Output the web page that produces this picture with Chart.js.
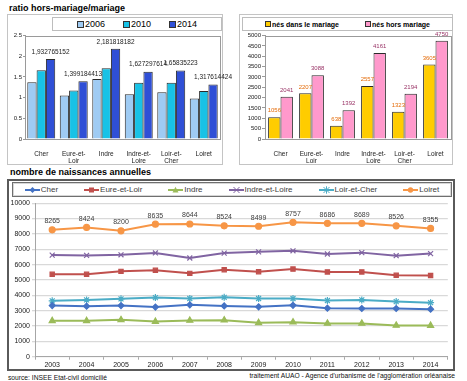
<!DOCTYPE html>
<html>
<head>
<meta charset="utf-8">
<script src="https://cdn.jsdelivr.net/npm/chart.js@4.4.1/dist/chart.umd.min.js"></script>
<style>
body { margin: 0; width: 467px; height: 381px; background: #fff; position: relative; overflow: hidden;
	font-family: "Liberation Sans", Arial, sans-serif; color: #000; }
.abs { position: absolute; box-sizing: border-box; }
.title { font-weight: bold; font-size: 9px; line-height: 9px; white-space: nowrap; }
.panel { border: 1px solid #c4c4c4; }
.legend { display: flex; align-items: center; justify-content: center; border: 1px solid #bdbdbd; background: #fff; }
.item { display: flex; align-items: center; white-space: nowrap; }
.sw { display: inline-block; border: 1px solid #333; box-sizing: border-box; }
.foot { font-size: 6.7px; line-height: 8px; white-space: nowrap; color: #111; }
canvas { position: absolute; }
</style>
</head>
<body>
<div class="abs title" style="left:9px;top:4px">ratio hors-mariage/mariage</div>
<div class="abs panel" style="left:7px;top:14px;width:216px;height:151px"></div>
<div class="abs legend" id="legend-ratio" style="left:52px;top:17px;width:170px;height:14px;gap:18px;font-size:9px"></div>
<canvas id="chart-ratio" width="230" height="133" style="left:7px;top:31px"></canvas>

<div class="abs panel" style="left:239px;top:14px;width:214px;height:151px"></div>
<div class="abs legend" id="legend-births" style="left:242px;top:17px;width:211px;height:14px;gap:26px;font-size:7px;font-weight:bold"></div>
<canvas id="chart-births" width="214" height="133" style="left:239px;top:31px"></canvas>

<div class="abs title" style="left:10px;top:168px">nombre de naissances annuelles</div>
<div class="abs" style="left:7px;top:179px;width:448px;height:192px;border:2px solid #5a5a5a"></div>
<div class="abs legend" id="legend-years" style="left:12px;top:182px;width:440px;height:15px;gap:26px;font-size:8px;color:#404040;border:1px solid #6f6f6f;box-shadow:inset 0 0 0 1px #d6d6d6"></div>
<canvas id="chart-years" width="444" height="172" style="left:9px;top:197px"></canvas>

<div class="abs foot" style="left:8px;top:374px">source: INSEE Etat-civil domicilié</div>
<div class="abs foot" style="right:12px;top:372px">traitement AUAO - Agence d'urbanisme de l'agglomération orléanaise</div>

<script>
// categories and values
const departements = ['Cher', ['Eure-et-', 'Loir'], 'Indre', ['Indre-et-', 'Loire'], ['Loir-et-', 'Cher'], 'Loiret'];

const ratioYears = ['2006', '2010', '2014'];
const ratio2006 = [1.37, 1.05, 1.45, 1.08, 1.13, 0.98];
const ratio2010 = [1.66, 1.17, 1.71, 1.36, 1.36, 1.16];
const ratio2014 = [1.932765152, 1.399184413, 2.181818182, 1.627297614, 1.65835223, 1.317614424];

const birthsNames = ['nés dans le mariage', 'nés hors mariage'];
const birthsIn = [1056, 2207, 638, 2557, 1323, 3605];
const birthsOut = [2041, 3088, 1392, 4161, 2194, 4750];

const years = ['2003', '2004', '2005', '2006', '2007', '2008', '2009', '2010', '2011', '2012', '2013', '2014'];
const seriesNames = ['Cher', 'Eure-et-Loir', 'Indre', 'Indre-et-Loire', 'Loir-et-Cher', 'Loiret'];
const cher = [3330, 3290, 3330, 3230, 3380, 3310, 3250, 3350, 3160, 3140, 3140, 3097];
const eureEtLoir = [5370, 5370, 5560, 5630, 5430, 5670, 5540, 5710, 5520, 5520, 5300, 5295];
const indre = [2340, 2340, 2400, 2290, 2360, 2380, 2210, 2250, 2170, 2170, 2040, 2030];
const indreEtLoire = [6620, 6600, 6640, 6760, 6430, 6750, 6830, 6900, 6690, 6780, 6580, 6718];
const loirEtCher = [3640, 3700, 3770, 3850, 3790, 3870, 3790, 3790, 3660, 3700, 3590, 3517];
const loiret = [8265, 8424, 8200, 8635, 8644, 8524, 8499, 8757, 8686, 8689, 8526, 8355];

// styles
const ratioColors = ['#9fcbf3', '#18c2e6', '#2f4fd6'];
const birthsColors = ['#ffcc00', '#ff99cc'];
const lineColors = ['#4472c4', '#c0504d', '#9bbb59', '#8064a2', '#4bacc6', '#f79646'];
const lineMarkers = ['rectRot', 'rect', 'triangle', 'crossRot', 'star', 'circle'];
const lineRadius = [3, 3, 3.5, 3.5, 3.5, 3];

Chart.defaults.font.family = '"Liberation Sans", Arial, sans-serif';
Chart.defaults.color = '#222';
Chart.defaults.animation = false;
Chart.defaults.responsive = false;

const framePlugin = {
	id: 'frame',
	beforeDatasetsDraw(chart, args, opts) {
		if (!opts.color) return;
		const a = chart.chartArea;
		const ctx = chart.ctx;
		ctx.save();
		ctx.strokeStyle = opts.color;
		ctx.lineWidth = 1;
		ctx.strokeRect(Math.round(a.left) + 0.5, Math.round(a.top) + 0.5, Math.round(a.width), Math.round(a.height));
		ctx.restore();
	},
};

const valueLabels = {
	id: 'valueLabels',
	afterDatasetsDraw(chart, args, opts) {
		if (!opts.items) return;
		const ctx = chart.ctx;
		ctx.save();
		ctx.font = opts.font;
		ctx.textAlign = 'center';
		ctx.textBaseline = 'middle';
		opts.items.forEach((it) => {
			const ds = chart.data.datasets[it.dataset];
			chart.getDatasetMeta(it.dataset).data.forEach((el, i) => {
				ctx.fillStyle = it.color;
				ctx.fillText(opts.format(ds.data[i]), el.x, el.y - opts.offset);
			});
		});
		ctx.restore();
	},
};

function swatchLegend(id, names, colors, size) {
	const box = document.getElementById(id);
	names.forEach((n, i) => {
		const item = document.createElement('span');
		item.className = 'item';
		item.innerHTML = `<span class="sw" style="width:${size}px;height:${size}px;background:${colors[i]};margin-right:1px"></span>${n}`;
		box.appendChild(item);
	});
}

function markerSvg(style, c) {
	let m;
	switch (style) {
		case 'rectRot': m = `<polygon points="7.5,1 10.5,4 7.5,7 4.5,4" fill="${c}"/>`; break;
		case 'rect': m = `<rect x="5" y="1.5" width="5" height="5" fill="${c}"/>`; break;
		case 'triangle': m = `<polygon points="7.5,0.8 10.5,6.5 4.5,6.5" fill="${c}"/>`; break;
		case 'crossRot': m = `<path d="M4.5 1L10.5 7M10.5 1L4.5 7" stroke="${c}"/>`; break;
		case 'star': m = `<path d="M4.5 1L10.5 7M10.5 1L4.5 7M7.5 0.3V7.7" stroke="${c}"/>`; break;
		default: m = `<circle cx="7.5" cy="4" r="2.7" fill="${c}"/>`;
	}
	return `<svg width="15" height="8" style="margin-right:1px"><line x1="0" y1="4" x2="15" y2="4" stroke="${c}" stroke-width="2"/>${m}</svg>`;
}

swatchLegend('legend-ratio', ratioYears, ratioColors, 7);
swatchLegend('legend-births', birthsNames, birthsColors, 6);
(() => {
	const box = document.getElementById('legend-years');
	seriesNames.forEach((n, i) => {
		const item = document.createElement('span');
		item.className = 'item';
		item.innerHTML = markerSvg(lineMarkers[i], lineColors[i]) + n;
		box.appendChild(item);
	});
})();

const plainTick = (v) => String(v);

function barOptions(yMax, yStep, yWidth, rightPad, labelCfg) {
	return {
		layout: { padding: { top: 4, right: rightPad, left: 0, bottom: 0 } },
		plugins: {
			legend: { display: false },
			tooltip: { enabled: false },
			frame: { color: '#9a9a9a' },
			valueLabels: labelCfg,
		},
		scales: {
			x: {
				grid: { display: false },
				border: { display: false },
				ticks: { font: { size: 6.5, lineHeight: 1.2 }, padding: 3, maxRotation: 0, autoSkip: false },
				afterFit(s) { s.height = 25; },
			},
			y: {
				min: 0,
				max: yMax,
				ticks: { stepSize: yStep, font: { size: 6 }, padding: 1, callback: plainTick },
				grid: { drawOnChartArea: false, tickLength: 2, color: '#9a9a9a' },
				border: { color: '#9a9a9a' },
				afterFit(s) { s.width = yWidth; },
			},
		},
	};
}

new Chart(document.getElementById('chart-ratio'), {
	type: 'bar',
	data: {
		labels: departements,
		datasets: [ratio2006, ratio2010, ratio2014].map((d, i) => ({
			label: ratioYears[i],
			data: d,
			backgroundColor: ratioColors[i],
			borderColor: '#2a2a2a',
			borderWidth: 1,
			categoryPercentage: 0.86,
			barPercentage: 1,
		})),
	},
	options: barOptions(2.5, 0.5, 18, 17, {
		items: [{ dataset: 2, color: '#222' }],
		offset: 7,
		font: '6.5px "Liberation Sans", Arial, sans-serif',
		format: (v) => String(v).replace('.', ','),
	}),
	plugins: [framePlugin, valueLabels],
});

const birthsOpts = barOptions(5000, 500, 26, 2, {
	items: [{ dataset: 0, color: '#e46c0a' }, { dataset: 1, color: '#993366' }],
	offset: 6.5,
	font: '6px "Liberation Sans", Arial, sans-serif',
	format: (v) => String(v),
});
birthsOpts.scales.y.grid.tickLength = 3;

new Chart(document.getElementById('chart-births'), {
	type: 'bar',
	data: {
		labels: departements,
		datasets: [birthsIn, birthsOut].map((d, i) => ({
			label: birthsNames[i],
			data: d,
			backgroundColor: birthsColors[i],
			borderColor: '#2a2a2a',
			borderWidth: 1,
			categoryPercentage: 0.8,
			barPercentage: 1,
		})),
	},
	options: birthsOpts,
	plugins: [framePlugin, valueLabels],
});

new Chart(document.getElementById('chart-years'), {
	type: 'line',
	data: {
		labels: years,
		datasets: [cher, eureEtLoir, indre, indreEtLoire, loirEtCher, loiret].map((d, i) => ({
			label: seriesNames[i],
			data: d,
			borderColor: lineColors[i],
			backgroundColor: lineColors[i],
			borderWidth: 2,
			pointStyle: lineMarkers[i],
			pointRadius: lineRadius[i],
			pointBorderWidth: 1.2,
			tension: 0,
		})),
	},
	options: {
		layout: { padding: { top: 6, right: 4, left: 0, bottom: 0 } },
		plugins: {
			legend: { display: false },
			tooltip: { enabled: false },
			valueLabels: {
				items: [{ dataset: 5, color: '#404040' }],
				offset: 8.5,
				font: '7px "Liberation Sans", Arial, sans-serif',
				format: (v) => String(v),
			},
		},
		scales: {
			x: {
				offset: true,
				grid: { drawOnChartArea: false, offset: true, tickLength: 3, color: '#a6a6a6' },
				border: { color: '#a6a6a6' },
				ticks: { font: { size: 7 }, padding: 1, maxRotation: 0, autoSkip: false },
				afterFit(s) { s.height = 12.3; },
			},
			y: {
				min: 0,
				max: 10000,
				ticks: { stepSize: 1000, font: { size: 7 }, padding: 2, callback: plainTick },
				grid: { color: '#d9d9d9', lineWidth: 1.3, tickLength: 3 },
				border: { color: '#a6a6a6' },
				afterFit(s) { s.width = 26; },
			},
		},
	},
	plugins: [valueLabels],
});
</script>
</body>
</html>
